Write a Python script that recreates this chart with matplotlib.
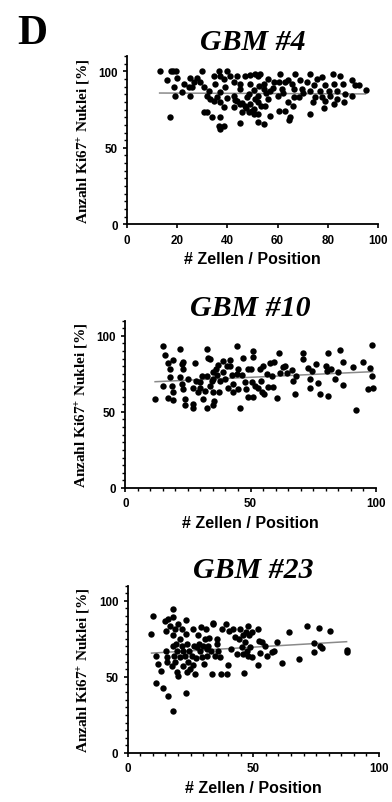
import matplotlib
matplotlib.use("Agg")
import matplotlib.pyplot as plt
from matplotlib.ticker import MultipleLocator

plt.rcParams['mathtext.fontset'] = 'custom'
plt.rcParams['mathtext.rm'] = 'Liberation Serif:bold'
plt.rcParams['mathtext.it'] = 'Liberation Serif:italic:bold'
plt.rcParams['mathtext.bf'] = 'Liberation Serif:bold'

# ---------------- data ----------------
gbm4_x = [13, 17.5, 18.5, 19.5, 30, 36.5, 40, 49, 51, 52, 53, 61, 67, 73, 82, 85,
          20, 16, 25, 28, 34.5, 37, 38.5, 41, 44, 47, 56, 64, 69, 75.7, 77.7, 89.6,
          22.6, 26.6, 29, 30.5, 42.5, 45, 49, 52.5, 54.5, 58.4, 60.4, 63, 65.7, 71.7, 74.4, 79, 82.3, 91, 92.3,
          18.6, 22, 24.6, 32.5, 37, 45, 50.5, 54.5, 57, 61.8, 66.4, 69.7, 73, 77, 80.3, 83.7, 95.2,
          19.3, 25, 32, 36, 40, 42.5, 48, 52, 56, 60, 68.7, 75, 77.7, 81, 83.7, 87, 89.6,
          34.5, 37, 44, 45, 47, 49, 52, 55, 64, 66, 74, 79, 82.3, 86.3, 38.5, 42.5, 50.5, 78.3,
          30.5, 32, 45.8, 48.5, 50.5, 52, 60.4, 63, 73, 17.3, 34, 37, 57, 65,
          45, 52, 54.5, 64.4, 36.5, 38.5, 37,
          47.5, 50, 53.5, 46, 51, 58, 62, 70, 86, 43, 48.5, 55.5, 35, 39, 66.5, 26, 33]
gbm4_y = [100, 100, 100, 100, 100, 100, 100, 97.5, 98, 97, 98, 98, 98, 98, 98, 97,
          95.5, 94, 95.6, 95.6, 97, 96.7, 95, 97, 97, 97, 95, 94, 94.6, 95, 96, 94,
          91.7, 92.8, 92.8, 90, 92.8, 91.7, 91.7, 90.6, 91.7, 92.8, 93.2, 93.2, 91.7, 92.8, 91, 91, 91.7, 91, 91,
          89.5, 86.3, 89.5, 87.4, 86.3, 88.5, 88, 88.5, 87.4, 88.5, 88.5, 88.5, 87.4, 87.4, 87.4, 87.4, 88,
          84, 84, 84, 83, 82.4, 84, 83, 84, 81.7, 84, 83, 83, 83, 84, 81.7, 85, 84,
          80.8, 79.7, 80.8, 78.6, 77.6, 78.6, 79.7, 77.6, 79.7, 77.6, 79.7, 80.8, 78.6, 79.7, 76.5, 76.5, 75.4, 75.8,
          73.2, 73.6, 73.2, 73.2, 72, 72, 74.3, 74.3, 72, 70.4, 70.4, 70, 71, 70,
          66, 67, 65.6, 68.4, 64.5, 64, 62.3,
          76, 74, 77, 79, 82, 89, 86, 86, 92, 81, 85, 86, 92, 90, 83, 90, 82]
gbm4_fit_x = [13, 95]
gbm4_fit_y = [85.8, 85.2]

gbm10_x = [11.9, 14.9, 15.8, 14.9, 16.9, 17.8, 17.8, 18.9, 17.2, 18.5, 19.2, 18.9, 21.8, 22.5, 21.8,
           22.9, 23.2, 22.5, 23.2, 23.8, 23.8, 25.1, 27, 26.9, 26.9, 27.8, 28.2, 29.1, 29.8, 29.8,
           30.5, 31.2, 31.8, 32.5, 32.5, 32.7, 33.2, 33.8, 33.8, 34.5, 34.9, 35.1, 35.1, 35.1, 35.4,
           36.2, 36.5, 37.2, 37.5, 37.8, 38.9, 39.1, 39.8, 40.5, 41.1, 41.8, 41.8, 42.5, 43.1, 43.1,
           44.5, 44.7, 45.1, 45.1, 45.8, 46.5, 46.9, 47.8, 48.2, 49.1, 49.1, 50.1, 50.5, 50.9, 51.1,
           51.1, 51.8, 53.1, 53.8, 54.1, 54.5, 55.1, 55.4, 56.5, 57.1, 57.7, 58.4, 58.8, 59.4, 60.5,
           61.5, 61.8, 62.8, 63.8, 64.7, 66.4, 67.1, 67.7, 68.1, 70.8, 70.8, 73.1, 73.8, 73.8, 74.4,
           76.1, 77.1, 77.7, 80.1, 80.4, 81.1, 81.1, 82, 83.8, 85.1, 85.7, 86.8, 86.8, 90.8, 92.1,
           95, 96.9, 97.7, 98.7, 98.7, 99.1]
gbm10_y = [58.4, 93, 87.3, 66.7, 82, 78, 72.6, 84.2, 59, 67, 63.2, 58, 91, 81.4, 72.6,
           78, 83, 68.3, 65, 58.4, 54.5, 71.5, 65.4, 55, 52.3, 82, 70.4, 62.8, 69.4, 66,
           73.7, 58.4, 63.9, 91, 73.7, 52.3, 85.1, 84.7, 67, 70.4, 63.2, 75.9, 71.5, 54.5, 57.3,
           78, 74.2, 80.8, 62.8, 70.4, 83.6, 75.9, 71.5, 80.3, 66, 84.2, 80.3, 74.2, 68.3, 62.8,
           74.8, 93, 78.4, 65, 52.3, 74.2, 85.1, 69.4, 65, 78, 59.5, 78, 69.4, 90, 86.2,
           59.5, 67, 66, 78, 70.4, 62.8, 80.3, 61.7, 74.8, 66.5, 82, 73.3, 66.5, 83, 58.8,
           88.4, 75.5, 79.2, 79.9, 75.5, 77.7, 70.4, 61.7, 73.7, 88.4, 84.7, 78.6, 71.5, 66, 77,
           81.4, 69, 61.7, 79.9, 77, 88.8, 60.6, 78, 71.5, 76.4, 90.8, 83, 67.6, 79.2, 51.4,
           83, 65, 78.6, 93.9, 73.7, 65.4]
gbm10_fit_x = [11.9, 98.8]
gbm10_fit_y = [69.8, 76.4]

gbm23_x = [9.2, 10.2, 11.3, 11.3, 12.2, 13.1, 14.2, 14.8, 15.1, 15.1, 15.5, 15.5, 16.2, 16.2, 16.8,
           17.5, 17.9, 18.2, 18.2, 18.2, 18.2, 18.4, 18.8, 18.8, 19.2, 19.5, 19.5, 20.2, 20.2, 20.8,
           20.8, 21.5, 21.5, 21.9, 22.1, 22.8, 23.2, 23.2, 23.2, 23.5, 23.7, 24.1, 24.5, 24.8, 25.5,
           26.1, 26.1, 26.4, 26.8, 27.2, 27.5, 28.1, 28.5, 28.8, 29.2, 29.4, 29.8, 30.4, 30.8, 31.2,
           31.4, 31.7, 32.1, 32.5, 33, 33.4, 33.8, 34.1, 34.7, 35.4, 35.7, 36.1, 36.7, 37, 37.4,
           39.1, 39.4, 40, 40.5, 41, 42, 42.7, 43.4, 44.4, 44.7, 45.4, 45.8, 46, 46.3, 46.7,
           47.1, 47.3, 48, 48, 48.4, 48.7, 49.3, 49.3, 52, 52, 52.4, 52.6, 53.3, 54.6, 55.3,
           57.3, 58.2, 59.3, 61.3, 64.3, 68.3, 71.2, 74.1, 74.1, 76.3, 76.5, 77.2, 80.5, 87.4, 87.4]
gbm23_y = [78.1, 90.2, 63.9, 45.7, 58.4, 54, 43, 86.9, 80.3, 67.2, 62.8, 59.5, 88, 37.6, 83.6,
           57.3, 70.5, 94.7, 89.3, 77.2, 27.8, 63.9, 81.4, 59.5, 71.6, 67.2, 52.9, 84.7, 50.8, 74.9,
           62.8, 81.4, 70.5, 57.3, 67.2, 63.9, 87.5, 78.1, 39.4, 52.9, 71.6, 59.9, 67.2, 55.1, 63.9,
           81.4, 57.8, 70.5, 51.9, 62.1, 69.4, 77.2, 71.6, 67.2, 82.5, 62.8, 70.5, 58.4, 74.9, 81.4,
           68.3, 63.9, 70.5, 75.3, 67.2, 51.9, 84.7, 85.3, 63.9, 74.9, 71.6, 67.2, 62.8, 51.9, 81.4,
           84.7, 51.9, 57.8, 80.3, 68.3, 81.4, 75.9, 65, 74.9, 81.4, 69.4, 65, 77.2, 52.3, 72.6,
           79.2, 67.2, 83.6, 63.9, 77.2, 69.4, 79.2, 62.8, 81.4, 57.8, 73.7, 65.6, 72.6, 70.5, 63.9,
           66.1, 67.2, 73.1, 59.1, 79.6, 61.7, 83.2, 72, 66.1, 81.8, 70, 69.1, 80.3, 67.8, 66.5]
gbm23_fit_x = [9.5, 87.1]
gbm23_fit_y = [65.6, 73.1]

panel_titles = ["GBM #4", "GBM #10", "GBM #23"]
x_major_steps = [20, 50, 50]
x_minor_steps = [None, 5, 5]
title_pads = [5.0, 2.2, 5.8]
xlabel_text = "# Zellen / Position"
ylabel_text = "Anzahl Ki67$^{+}$ Nuklei [%]"
panel_letter = "D"

# ---------------- figure ----------------
W, H = 392, 803
fig = plt.figure(figsize=(W / 100, H / 100), dpi=100)

# axes rectangles in pixels: (left, y0 pixel from top, width, height)
rects_px = [(127.0, 225.3, 251.0, 168.3),
            (125.3, 489.0, 250.4, 167.5),
            (127.7, 754.0, 251.3, 167.5)]

panels = [(gbm4_x, gbm4_y, gbm4_fit_x, gbm4_fit_y),
          (gbm10_x, gbm10_y, gbm10_fit_x, gbm10_fit_y),
          (gbm23_x, gbm23_y, gbm23_fit_x, gbm23_fit_y)]

for i, ((xs, ys, fx, fy), (l, b, w, h)) in enumerate(zip(panels, rects_px)):
    ax = fig.add_axes([l / W, (H - b) / H, w / W, h / H])
    ax.plot(fx, fy, color="#8a8a8a", lw=1.1, zorder=2)
    ax.plot(xs, ys, 'o', color="black", ms=4.6, mec="none", zorder=3)
    ax.set_xlim(0, 100)
    ax.set_ylim(0, 110)
    for s in ("top", "right"):
        ax.spines[s].set_visible(False)
    for s in ("left", "bottom"):
        ax.spines[s].set_linewidth(1.3)
    ax.xaxis.set_major_locator(MultipleLocator(x_major_steps[i]))
    if x_minor_steps[i]:
        ax.xaxis.set_minor_locator(MultipleLocator(x_minor_steps[i]))
    ax.yaxis.set_major_locator(MultipleLocator(50))
    ax.yaxis.set_minor_locator(MultipleLocator(5))
    ax.tick_params(which="major", direction="out", length=3.2, width=1.2, pad=3.5)
    ax.tick_params(which="minor", direction="out", length=2.0, width=1.0)
    for lab in ax.get_xticklabels() + ax.get_yticklabels():
        lab.set_fontfamily("Liberation Sans")
        lab.set_fontweight("bold")
        lab.set_fontsize(8.4)
    ax.set_xlabel(xlabel_text, family="Liberation Sans", weight="bold", size=11.5, labelpad=4)
    ax.set_ylabel(ylabel_text, family="Liberation Serif", weight="bold", size=11, labelpad=4)
    ax.set_title(panel_titles[i], family="Liberation Serif", weight="bold", style="italic",
                 size=21.5, pad=title_pads[i])

fig.text(17 / W, 1 - 15 / H, panel_letter, family="Liberation Serif", weight="bold",
         size=30, ha="left", va="top")

fig.savefig("out.png", dpi=100)
